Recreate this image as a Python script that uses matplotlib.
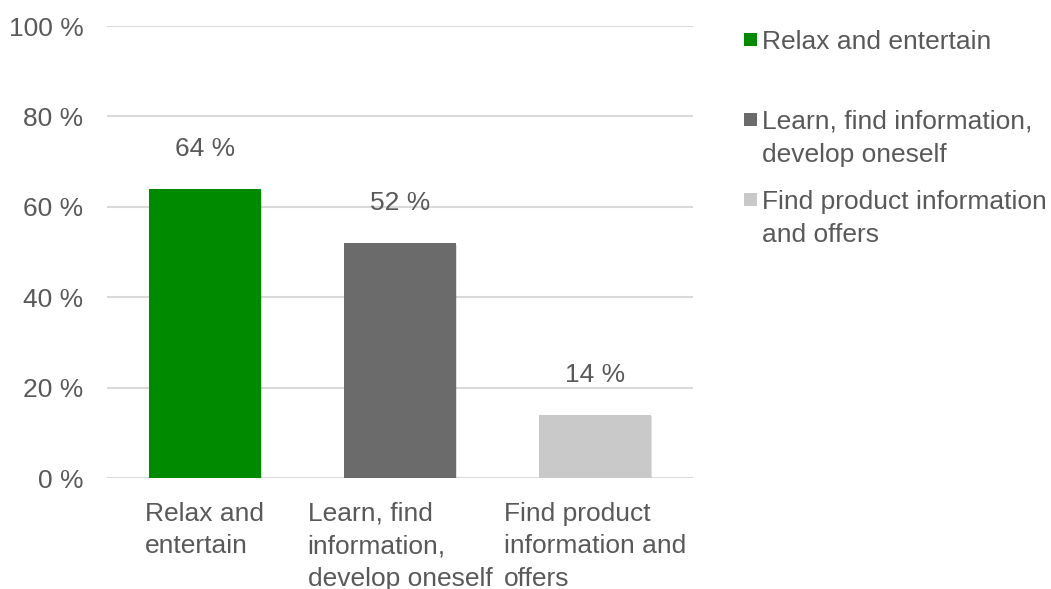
import matplotlib
matplotlib.use("Agg")
import matplotlib.pyplot as plt
from matplotlib.patches import Rectangle
import matplotlib.patheffects as pe

categories = ["Relax and entertain",
              "Learn, find information, develop oneself",
              "Find product information and offers"]
tick_labels = ["Relax and\nentertain",
               "Learn, find\ninformation,\ndevelop oneself",
               "Find product\ninformation and\noffers"]
legend_labels = ["Relax and entertain",
                 "Learn, find information,\ndevelop oneself",
                 "Find product information\nand offers"]
values = [64, 52, 14]
colors = ["#008A00", "#6B6B6B", "#C9C9C9"]
y_ticks = [0, 20, 40, 60, 80, 100]

plt.rcParams["font.family"] = ["Liberation Sans", "DejaVu Sans"]
text_color = "#595959"
fs = 19

W, H = 1051, 589
fig = plt.figure(figsize=(W / 100, H / 100), dpi=100)
ax = fig.add_axes([107 / W, 1 - 478 / H, (693 - 107) / W, (478 - 26) / H])

x = list(range(len(categories)))
bars = ax.bar(x, values, width=0.573, color=colors, zorder=3)
for b in bars:
    b.set_path_effects([pe.SimplePatchShadow(offset=(0.8, -1.2), shadow_rgbFace="#000000", alpha=0.12),
                        pe.Normal()])

for xi, v in zip(x, values):
    ax.annotate(f"{v} %", (xi, v), xytext=(0, 20), textcoords="offset points",
                ha="center", va="bottom", fontsize=fs, color=text_color)

ax.set_xlim(-0.5, 2.5)
ax.set_ylim(0, 100)
ax.set_yticks(y_ticks)
ax.set_yticklabels([f"{t} %" for t in y_ticks])
ax.set_xticks(x)
ax.set_xticklabels(tick_labels, multialignment="left", linespacing=1.45)
ax.tick_params(axis="both", length=0, labelsize=fs, labelcolor=text_color)
ax.tick_params(axis="y", pad=17)
ax.tick_params(axis="x", pad=17)
ax.yaxis.grid(True, color="#D9D9D9", linewidth=1.5, zorder=0)
ax.set_axisbelow(True)
for s in ax.spines.values():
    s.set_visible(False)

# legend drawn at fixed vertical pitch
legend_tops = [40, 120, 200]
for lab, col, yc in zip(legend_labels, colors, legend_tops):
    fig.patches.append(Rectangle((744 / W, 1 - (yc + 6) / H), 13 / W, 13 / H,
                                 transform=fig.transFigure, facecolor=col,
                                 edgecolor="none"))
    fig.text(762 / W, 1 - (yc - 10) / H, lab, fontsize=fs, color=text_color,
             ha="left", va="top", linespacing=1.45)

fig.savefig("out.png", dpi=100)
